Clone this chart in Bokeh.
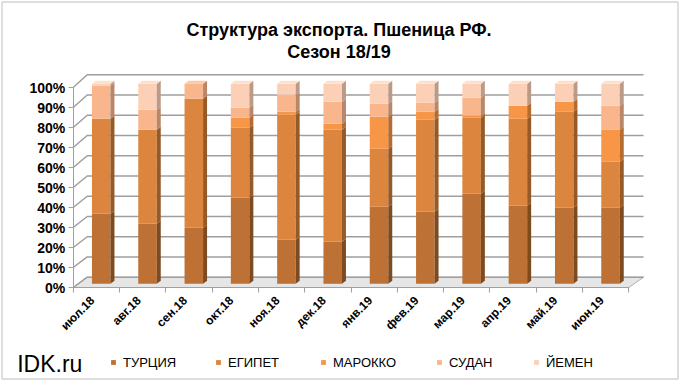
import math
from bokeh.plotting import figure
from bokeh.models import (Range1d, FixedTicker, PrintfTickFormatter, Legend, LegendItem,
                          Label, ColumnDataSource)
from bokeh.embed import file_html
from bokeh.resources import INLINE

# ---- data ----
months = ["июл.18", "авг.18", "сен.18", "окт.18", "ноя.18", "дек.18",
          "янв.19", "фев.19", "мар.19", "апр.19", "май.19", "июн.19"]
series_names = ["ТУРЦИЯ", "ЕГИПЕТ", "МАРОККО", "СУДАН", "ЙЕМЕН"]
turkey = [35, 30, 28, 43, 22, 21, 38.5, 36, 45, 39, 38, 38]
egypt = [47.5, 47, 64.5, 35, 62.5, 56, 29, 46, 38, 43.5, 48, 23]
morocco = [0, 0, 0, 5, 1.5, 3, 16, 4, 1, 6.5, 5, 16]
sudan = [16.5, 10, 7.5, 5, 8.5, 11, 6.5, 4.5, 9, 0, 0, 12]
yemen = [1, 13, 0, 12, 5.5, 9, 10, 9.5, 7, 11, 9, 11]
y_ticks = [0, 10, 20, 30, 40, 50, 60, 70, 80, 90, 100]
title_lines = ["Структура экспорта. Пшеница РФ.", "Сезон 18/19"]
watermark = "IDK.ru"

# ---- styles / layout ----
front_colors = ["#BE7134", "#DC853E", "#F79646", "#F9B58C", "#FCD0B6"]
side_colors = ["#7E4A20", "#965A28", "#B56C30", "#B88668", "#BB9B88"]
cap_colors = ["#D08A50", "#E9A46A", "#FBB47A", "#FBC9A8", "#FDE1D0"]
FONT = "Liberation Sans"

W, H = 680, 384
PXX, PXY = 46.3, 2.0          # pixels per category / per percent
OX, OY = 72.7, 287.0          # canvas position of the front origin (from top-left)
x0, x1 = -OX / PXX, (W - OX) / PXX
y0, y1 = -(H - OY) / PXY, OY / PXY
MID_DROP = 3.7                # bars sit a little behind the front plane
wall_dx, wall_dy, wall_k = 0.302, 5.15, 1.012
wall_end = 12.318
bar_shift, bar_w = 0.105, 0.40
side_dx, side_dy = 0.086, 1.5


def sx_(px):
    return (px - OX) / PXX


def sy_(py):
    return (OY - py) / PXY


p = figure(width=W, height=H, output_backend="svg", toolbar_location=None,
           x_range=Range1d(x0, x1), y_range=Range1d(y0, y1),
           min_border_left=0, min_border_right=0, min_border_top=0, min_border_bottom=0)
p.extra_y_ranges = {"mid": Range1d(y0 - MID_DROP / PXY, y1 - MID_DROP / PXY)}
p.outline_line_color = None
p.title.visible = False
p.xgrid.visible = False
p.ygrid.visible = False
p.background_fill_color = "white"
p.border_fill_color = "white"

# chart border
p.quad(left=[sx_(1.5)], right=[sx_(677.5)], top=[sy_(1.5)], bottom=[sy_(378.5)],
       fill_color=None, line_color="#D4D4D4", line_width=1.5)

# floor
p.patch(x=[0, 12, wall_end, wall_dx], y=[0, 0, wall_dy, wall_dy],
        fill_color="#E6E6E6", line_color="#B0B0B0", line_width=1)

# back/left wall gridlines
gx, gy = [], []
for v in y_ticks:
    yb = wall_dy + wall_k * v
    gx.append([0, wall_dx, wall_end])
    gy.append([v, yb, yb])
p.multi_line(xs=gx, ys=gy, line_color="#9E9E9E", line_width=1.5)

# bars (front faces)
series = [turkey, egypt, morocco, sudan, yemen]
xc = [i + 0.5 + bar_shift for i in range(len(months))]
data = {"x": xc}
for name, vals in zip(series_names, series):
    data[name] = vals
src = ColumnDataSource(data)
renderers = p.vbar_stack(series_names, x="x", width=bar_w, source=src,
                         color=front_colors, line_color=None, y_range_name="mid")

# side faces and caps
sxs, sys_, scs = [], [], []
cxs, cys, ccs = [], [], []
for i in range(len(months)):
    xr = xc[i] + bar_w / 2
    xl = xc[i] - bar_w / 2
    base = 0.0
    top_k = 0
    for k, vals in enumerate(series):
        v = vals[i]
        if v <= 0:
            continue
        b, t = base, base + v
        sxs.append([xr, xr + side_dx, xr + side_dx, xr])
        sys_.append([b, b + side_dy, t + side_dy, t])
        scs.append(side_colors[k])
        base = t
        top_k = k
    cxs.append([xl, xr, xr + side_dx, xl + side_dx])
    cys.append([base, base, base + side_dy, base + side_dy])
    ccs.append(cap_colors[top_k])
p.patches(xs=sxs, ys=sys_, fill_color=scs, line_color=None, y_range_name="mid")
p.patches(xs=cxs, ys=cys, fill_color=ccs, line_color=None, y_range_name="mid")

# axes (fixed at the front origin)
label_pos = [i + 0.417 for i in range(len(months))]
xa = p.xaxis[0]
xa.fixed_location = 0
xa.bounds = (0, 12)
xa.ticker = FixedTicker(ticks=label_pos, minor_ticks=list(range(len(months) + 1)))
xa.major_label_overrides = {lp: m for lp, m in zip(label_pos, months)}
xa.major_label_orientation = math.pi / 4
xa.major_tick_line_color = None
xa.minor_tick_in = 0
xa.minor_tick_out = 5
xa.minor_tick_line_color = "#A0A0A0"
xa.axis_line_color = "#A0A0A0"
xa.major_label_text_font = FONT
xa.major_label_text_font_size = "12px"
xa.major_label_text_font_style = "bold"
xa.major_label_text_color = "black"
xa.major_label_standoff = 5

ya = p.yaxis[0]
ya.fixed_location = 0
ya.bounds = (0, 100)
ya.ticker = FixedTicker(ticks=y_ticks)
ya.formatter = PrintfTickFormatter(format="%d%%")
ya.major_tick_in = 0
ya.major_tick_out = 5
ya.minor_tick_line_color = None
ya.major_tick_line_color = "#A0A0A0"
ya.axis_line_color = "#A0A0A0"
ya.major_label_text_font = FONT
ya.major_label_text_font_size = "14px"
ya.major_label_text_font_style = "bold"
ya.major_label_text_color = "black"
ya.major_label_standoff = 3

# title (two centred lines)
for line, ypx in zip(title_lines, [29.5, 51.5]):
    p.add_layout(Label(x=sx_(338.5), y=sy_(ypx), text=line, text_align="center",
                       text_baseline="alphabetic", text_font=FONT, text_font_size="18px",
                       text_font_style="bold", text_color="black"))

# legend (two groups to follow the reference spacing)
items = [LegendItem(label=n, renderers=[r]) for n, r in zip(series_names, renderers)]
common = dict(orientation="horizontal", glyph_width=6, glyph_height=6, label_standoff=7,
              spacing=0, label_height=16, padding=0, margin=0, border_line_color=None,
              background_fill_alpha=0, label_text_font=FONT, label_text_font_size="13px",
              label_text_color="black")
leg1 = Legend(items=items[:3], location=(110, 14), label_width=92, **common)
leg2 = Legend(items=items[3:], location=(436, 14), label_width=84, **common)
p.add_layout(leg1)
p.add_layout(leg2)

# watermark
p.add_layout(Label(x=sx_(16.7), y=sy_(363.3), text=watermark, text_font=FONT,
                   text_font_size="23px", text_baseline="alphabetic", text_color="black"))

open("out.html", "w").write(file_html(p, INLINE))
